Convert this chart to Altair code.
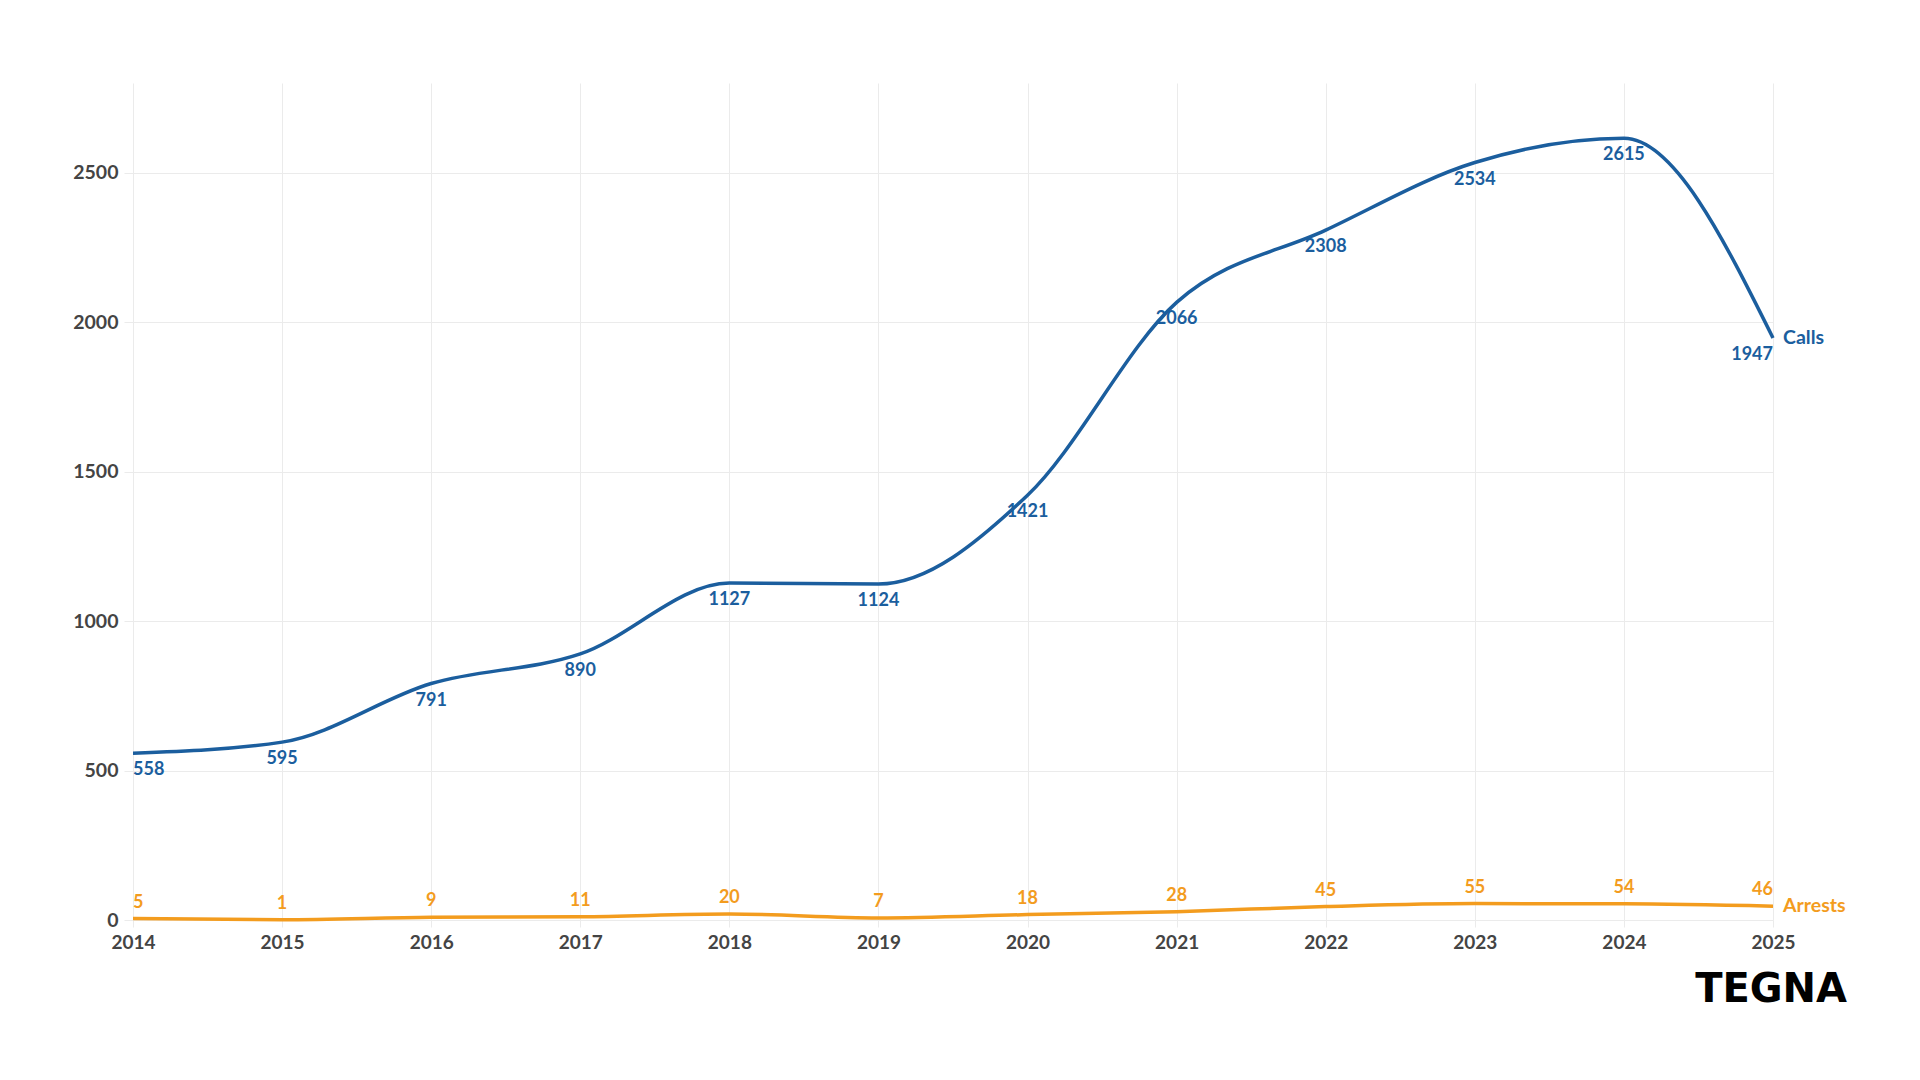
import altair as alt
import pandas as pd

years = [2014, 2015, 2016, 2017, 2018, 2019, 2020, 2021, 2022, 2023, 2024, 2025]
calls = [558, 595, 791, 890, 1127, 1124, 1421, 2066, 2308, 2534, 2615, 1947]
arrests = [5, 1, 9, 11, 20, 7, 18, 28, 45, 55, 54, 46]
series_names = ["Calls", "Arrests"]
y_ticks = [0, 500, 1000, 1500, 2000, 2500]
logo_text = ["TEGNA"]

BLUE_LINE = "#1b5e9e"
BLUE_TEXT = "#2a6db0"
ORANGE_LINE = "#f39c1e"
ORANGE_TEXT = "#f5a434"
FONT = "Lato"

rows = []
for s, vals in zip(series_names, [calls, arrests]):
    for yr, v in zip(years, vals):
        rows.append({"year": yr, "value": v, "series": s, "label": str(v)})
df = pd.DataFrame(rows)
logo_df = pd.DataFrame({"t": logo_text})

W, H = 1640, 837

xs = alt.X("year:Q", scale=alt.Scale(domain=[years[0], years[-1]], nice=False, zero=False),
           axis=alt.Axis(values=years, format="d", title=None, grid=True, gridColor="#ebebeb",
                         domain=False, tickSize=7, tickColor="#ebebeb", labelPadding=6,
                         labelFlush=False, labelFont=FONT, labelFontSize=19, labelFontWeight="bold",
                         labelColor="#444444"))
ys = alt.Y("value:Q", scale=alt.Scale(domain=[0, 2800], nice=False),
           axis=alt.Axis(values=y_ticks, format="d", title=None, grid=True, gridColor="#ebebeb",
                         domain=False, tickSize=9, tickColor="#ebebeb", labelPadding=6,
                         labelFont=FONT, labelFontSize=19.5, labelFontWeight="bold",
                         labelColor="#444444"))

color = alt.Color("series:N", scale=alt.Scale(domain=series_names, range=[BLUE_LINE, ORANGE_LINE]), legend=None)
tcolor = alt.Color("series:N", scale=alt.Scale(domain=series_names, range=[BLUE_TEXT, ORANGE_TEXT]), legend=None)

base = alt.Chart(df)

lines = base.mark_line(interpolate="monotone", strokeWidth=3.5).encode(x=xs, y=ys, color=color, detail="series:N")

def value_labels(series, dy, align, yr_filter):
    return base.transform_filter(alt.datum.series == series).transform_filter(yr_filter).mark_text(
        font=FONT, fontSize=18, fontWeight="bold", dy=dy, align=align, baseline="middle"
    ).encode(x="year:Q", y="value:Q", text="label:N", color=tcolor)

first = alt.datum.year == years[0]
last = alt.datum.year == years[-1]
mid = (alt.datum.year != years[0]) & (alt.datum.year != years[-1])

label_layers = []
for s, dy in [("Calls", 17), ("Arrests", -16)]:
    label_layers.append(value_labels(s, dy, "left", first))
    label_layers.append(value_labels(s, dy, "center", mid))
    label_layers.append(value_labels(s, dy, "right", last))

names = base.transform_filter(last).mark_text(
    font=FONT, fontSize=19.5, fontWeight="bold", align="left", baseline="middle", dx=10
).encode(x="year:Q", y="value:Q", text="series:N", color=tcolor)

logo = alt.Chart(logo_df).mark_text(
    font="DejaVu Sans", fontSize=40, fontWeight="bold", align="right", baseline="middle", color="#000000"
).encode(x=alt.value(1714), y=alt.value(907), text="t:N")

chart = alt.layer(lines, *label_layers, names, logo).properties(
    width=W, height=H,
    autosize=alt.AutoSizeParams(type="none"),
    padding={"left": 125, "top": 75, "right": 139, "bottom": 152},
    background="#ffffff",
).configure_view(stroke=None)

chart.save("out.html", embed_options={"renderer": "svg", "actions": False})
